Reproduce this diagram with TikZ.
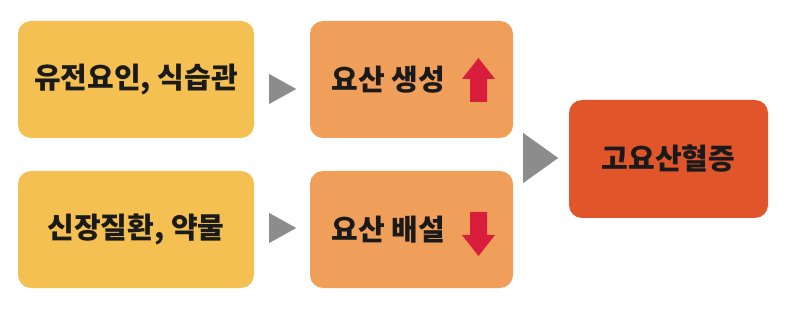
\documentclass[tikz,border=0pt]{standalone}
\usepackage{fontspec}
\usepackage{tikz}
\usetikzlibrary{shapes.geometric}
\newfontfamily\kr{Noto Sans CJK KR}
\definecolor{causeyellow}{HTML}{F5C052}
\definecolor{steporange}{HTML}{F09F5A}
\definecolor{resultred}{HTML}{E0552A}
\definecolor{arrowgray}{HTML}{8C8C8C}
\definecolor{arrowred}{HTML}{D81E3C}
\definecolor{inkblack}{HTML}{1A1A1A}

\begin{document}
\begin{tikzpicture}[x=1pt,y=-1pt,
  box/.style={rectangle,rounded corners=13pt,inner sep=0pt,
    minimum width=236pt,minimum height=117pt,
    align=center,text=inkblack,font=\kr\bfseries\fontsize{29}{32}\selectfont},
  midbox/.style={box,minimum width=203pt},
  tri/.style={isosceles triangle,isosceles triangle stretches=true,
    fill=arrowgray,inner sep=0pt,shape border rotate=0,anchor=west}]

  \useasboundingbox (0,0) rectangle (792,312);

  \node[box,fill=causeyellow] (gene) at (136,79.5) {유전요인, 식습관};
  \node[box,fill=causeyellow] (kidney) at (136,229.5) {신장질환, 약물};

  \node[midbox,fill=steporange] (prod) at (411.5,79.5) {요산 생성\hspace{46pt}};
  \node[midbox,fill=steporange] (excr) at (411.5,229.5) {요산 배설\hspace{46pt}};

  \node[box,fill=resultred,minimum width=199pt,minimum height=118pt] (hyper) at (668.5,159) {고요산혈증};

  \node[tri,minimum width=30pt,minimum height=27pt] (t1) at (269,89) {};
  \node[tri,minimum width=30pt,minimum height=27pt] (t2) at (269,228) {};
  \node[tri,minimum width=50pt,minimum height=35pt] (t3) at (523,158) {};

  % up / down arrows
  \fill[arrowred] (478.5,58) -- (495,79) -- (487,79) -- (487,102)
    -- (470,102) -- (470,79) -- (462,79) -- cycle;
  \fill[arrowred] (478.5,256) -- (495,235) -- (487,235) -- (487,212)
    -- (470,212) -- (470,235) -- (462,235) -- cycle;
\end{tikzpicture}
\end{document}
